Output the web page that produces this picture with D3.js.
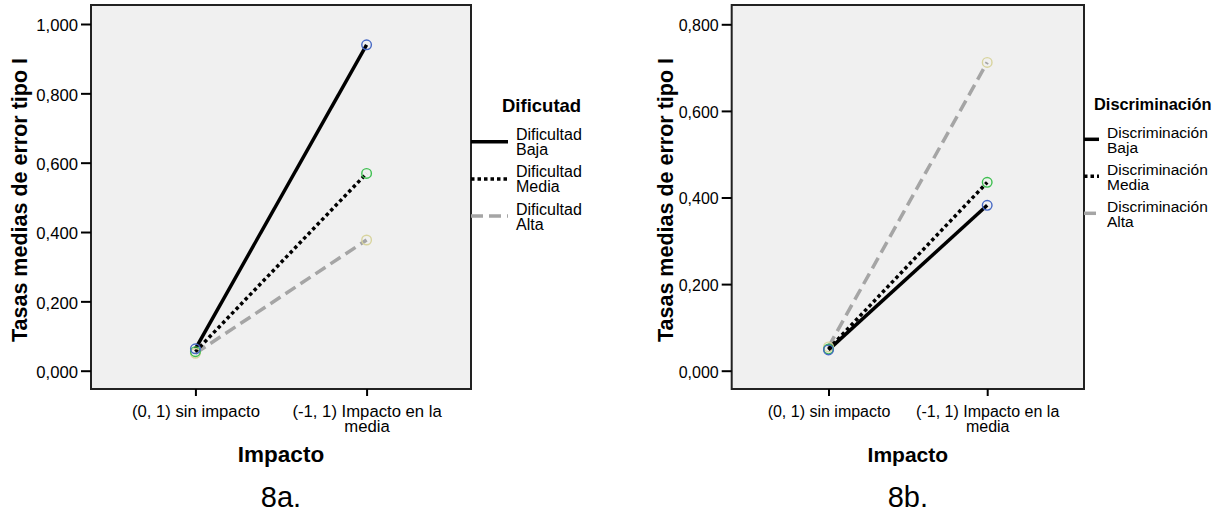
<!DOCTYPE html>
<html>
<head>
<meta charset="utf-8">
<script src="https://cdn.jsdelivr.net/npm/d3@7"></script>
<style>
body{margin:0;background:#fff;}
svg{display:block;font-family:Arial,"Liberation Sans",sans-serif;}
</style>
</head>
<body>
<svg id="chart" width="1219" height="512"></svg>
<script>
// categorias del eje X (comunes a los dos graficos)
var categorias = ["(0, 1) sin impacto", "(-1, 1) Impacto en la media"];

// 8a. medias por dificultad
var difBaja  = [0.063, 0.940];
var difMedia = [0.055, 0.569];
var difAlta  = [0.050, 0.377];
var difNombres = ["Dificultad Baja", "Dificultad Media", "Dificultad Alta"];
var difTicks = [0, 0.2, 0.4, 0.6, 0.8, 1.0];

// 8b. medias por discriminacion
var disBaja  = [0.048, 0.382];
var disMedia = [0.050, 0.435];
var disAlta  = [0.055, 0.712];
var disNombres = ["Discriminación Baja", "Discriminación Media", "Discriminación Alta"];
var disTicks = [0, 0.2, 0.4, 0.6, 0.8];

// estilo de cada serie: Baja, Media, Alta
var estilos = [
    {color: "#000", dash: null, punto: "#4668c4"},
    {color: "#000", dash: "3.5,3", punto: "#3dbf4f"},
    {color: "#a5a5a5", dash: "12,6", punto: "#d8d49e"}
];

var es = d3.formatLocale({decimal: ",", thousands: ".", grouping: [3], currency: ["", "€"]});
var fmt = es.format(".3f");

var svg = d3.select("#chart");

// parte un texto en varias lineas (tspans) segun el ancho
function partir(textos, ancho, alto) {
    textos.each(function() {
        var t = d3.select(this);
        var x0 = t.attr("x") || 0;
        var palabras = t.text().split(" ");
        var linea = [];
        t.text(null);
        var tsp = t.append("tspan").attr("x", x0);
        palabras.forEach(function(p) {
            linea.push(p);
            tsp.text(linea.join(" "));
            if (tsp.node().getComputedTextLength() > ancho && linea.length > 1) {
                linea.pop();
                tsp.text(linea.join(" "));
                linea = [p];
                tsp = t.append("tspan").attr("x", x0).attr("dy", alto).text(p);
            }
        });
    });
}

function panel(cfg) {
    var g = svg.append("g");
    var x = d3.scalePoint().domain(categorias).range([cfg.x0, cfg.x1]).padding(0.61);
    var y = d3.scaleLinear().domain(cfg.dominio).range(cfg.rangoY);

    // fondo y marco
    g.append("rect")
        .attr("x", cfg.x0).attr("y", cfg.y0)
        .attr("width", cfg.x1 - cfg.x0).attr("height", cfg.y1 - cfg.y0)
        .attr("fill", "#f0f0f0").attr("stroke", "#222").attr("stroke-width", 2);

    // eje Y
    var ejeY = g.append("g")
        .attr("transform", "translate(" + cfg.x0 + ",0)")
        .call(d3.axisLeft(y).tickValues(cfg.ticks).tickFormat(fmt).tickSize(10).tickPadding(3));
    ejeY.select(".domain").remove();
    ejeY.selectAll("line").attr("stroke", "#000").attr("stroke-width", 2);
    ejeY.selectAll("text").attr("fill", "#000").style("font-size", cfg.fsTicks + "px").attr("dy", "0.4em");

    // eje X
    var ejeX = g.append("g")
        .attr("transform", "translate(0," + cfg.y1 + ")")
        .call(d3.axisBottom(x).tickSize(7));
    ejeX.select(".domain").remove();
    ejeX.selectAll("line").attr("stroke", "#000").attr("stroke-width", 2);
    ejeX.selectAll("text")
        .attr("fill", "#000").style("font-size", cfg.fsTicks + "px")
        .attr("y", 27.7).attr("dy", null)
        .call(partir, x.step(), 15);

    // titulos
    g.append("text")
        .attr("transform", "translate(" + cfg.tituloYx + "," + ((cfg.y0 + cfg.y1) / 2 + 3) + ") rotate(-90)")
        .attr("text-anchor", "middle").style("font-size", "21.5px").style("font-weight", "bold")
        .text("Tasas medias de error tipo I");
    g.append("text")
        .attr("x", (cfg.x0 + cfg.x1) / 2).attr("y", 461.7)
        .attr("text-anchor", "middle").style("font-size", cfg.fsImpacto + "px").style("font-weight", "bold")
        .text("Impacto");
    g.append("text")
        .attr("x", (cfg.x0 + cfg.x1) / 2).attr("y", 506.5)
        .attr("text-anchor", "middle").style("font-size", "29px")
        .text(cfg.rotulo);

    // lineas y puntos
    var linea = d3.line()
        .x(function(d, i) { return x(categorias[i]); })
        .y(function(d) { return y(d); });
    var orden = [2, 1, 0];
    orden.forEach(function(k) {
        g.append("path")
            .attr("d", linea(cfg.series[k]))
            .attr("fill", "none")
            .attr("stroke", estilos[k].color)
            .attr("stroke-width", 3.5)
            .attr("stroke-dasharray", estilos[k].dash);
    });
    orden.forEach(function(k) {
        g.selectAll(null).data(cfg.series[k]).enter().append("circle")
            .attr("cx", function(d, i) { return x(categorias[i]); })
            .attr("cy", function(d) { return y(d); })
            .attr("r", 4.8)
            .attr("fill", "none")
            .attr("stroke", estilos[k].punto)
            .attr("stroke-width", 1.4);
    });

    // leyenda
    g.append("text")
        .attr("x", cfg.leyX).attr("y", cfg.leyTituloY)
        .style("font-size", cfg.fsLeyenda + "px").style("font-weight", "bold")
        .text(cfg.leyTitulo);
    var items = g.selectAll("g.item").data(cfg.nombres).enter().append("g").attr("class", "item");
    items.append("line")
        .attr("x1", cfg.x1).attr("x2", cfg.x1 + cfg.leyLargo)
        .attr("y1", function(d, i) { return cfg.leyY + i * cfg.leyPaso; })
        .attr("y2", function(d, i) { return cfg.leyY + i * cfg.leyPaso; })
        .attr("stroke", function(d, i) { return estilos[i].color; })
        .attr("stroke-width", 3.5)
        .attr("stroke-dasharray", function(d, i) { return estilos[i].dash; });
    items.append("text")
        .attr("x", cfg.x1 + cfg.leyLargo + 8)
        .attr("y", function(d, i) { return cfg.leyY + i * cfg.leyPaso - 1.5; })
        .style("font-size", cfg.fs + "px")
        .text(function(d) { return d; })
        .call(partir, cfg.leyAncho, 15);
}

panel({
    x0: 91, x1: 471, y0: 5, y1: 389,
    dominio: [0, 1], rangoY: [370.7, 24], ticks: difTicks,
    series: [difBaja, difMedia, difAlta], nombres: difNombres,
    fs: 16, fsTicks: 16.7, fsImpacto: 22.5, fsLeyenda: 18.5, tituloYx: 26.7, rotulo: "8a.",
    leyX: 502, leyTituloY: 111.5, leyTitulo: "Dificutad",
    leyY: 141.7, leyPaso: 37.2, leyLargo: 37, leyAncho: 75
});

panel({
    x0: 731.7, x1: 1084, y0: 5, y1: 389,
    dominio: [0, 0.8], rangoY: [370.7, 24.3], ticks: disTicks,
    series: [disBaja, disMedia, disAlta], nombres: disNombres,
    fs: 15.5, fsTicks: 16, fsImpacto: 21, fsLeyenda: 16.4, tituloYx: 673.3, rotulo: "8b.",
    leyX: 1094, leyTituloY: 110, leyTitulo: "Discriminación",
    leyY: 139.3, leyPaso: 37, leyLargo: 15, leyAncho: 110
});
</script>
</body>
</html>
